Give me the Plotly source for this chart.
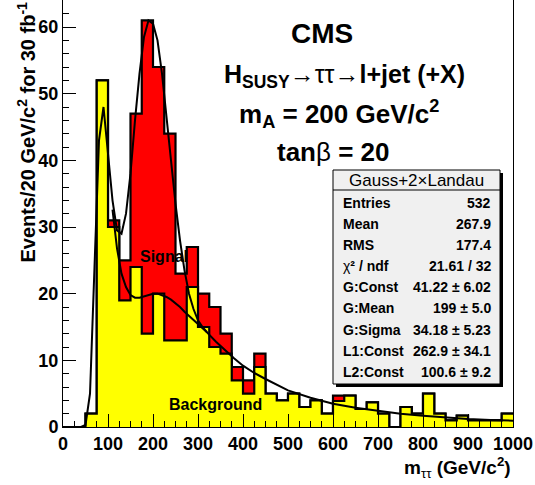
import plotly.graph_objects as go

# histogram bins (25 GeV wide)
bin_edges = list(range(0, 1001, 25))
sig_plus_bkg = [0, 0, 2, 52, 31, 25, 47, 61, 54, 44,
                23, 27, 20, 18, 14, 9, 7, 11, 5, 4,
                5, 3, 4, 2, 4.7, 4.7, 2.7, 3.7, 2, 0,
                3, 2, 5, 2, 1, 1.7, 1, 1, 1, 2]
background = [0, 0, 2, 52, 30, 19, 24, 14, 20, 13,
              13, 21, 15, 12, 11, 7, 5, 9, 5, 4,
              5, 3, 4, 2, 3.9, 4.7, 2.7, 3.7, 2, 0,
              3, 2, 5, 2, 1, 1.7, 1, 1, 1, 2]

# fit curve (Gauss + 2 x Landau)
fit_x = [0, 40, 50, 60, 70, 80, 90, 100, 110, 120, 130, 140, 150, 160, 170, 180, 190,
         200, 210, 220, 230, 240, 250, 260, 270, 280, 290, 300, 310, 320, 340, 360,
         380, 400, 425, 450, 475, 500, 550, 600, 650, 700, 750, 800, 850, 900, 950, 1000]
fit_y = [0, 0, 0.3, 5, 24, 43, 48, 41, 34, 29.5, 29, 32, 38, 46, 53, 58.5, 61,
         60.5, 58, 53, 47, 40, 33.5, 28, 23.5, 20, 17.7, 16, 15, 14.2, 12.8, 11.5,
         10.3, 9.2, 8.1, 7.2, 6.3, 5.5, 4.4, 3.5, 2.9, 2.4, 2.0, 1.7, 1.4, 1.2, 1.05, 0.95]

# background part of the fit (2 x Landau)
bkg_x = [110, 120, 130, 140, 150, 160, 170, 180, 190, 200, 210, 220, 230, 240,
         250, 260, 270, 280, 290, 300, 310, 320]
bkg_y = [32.6, 26.8, 23, 21, 19.8, 19.4, 19.4, 19.6, 19.8, 20, 20, 19.8, 19.5, 19.1,
         18.6, 18, 17.3, 16.7, 16, 15.4, 14.8, 14.2]

stat_names = ["Entries", "Mean", "RMS", "χ² / ndf", "G:Const", "G:Mean",
              "G:Sigma", "L1:Const", "L2:Const"]
stat_values = ["532", "267.9", "177.4", "21.61 / 32", "41.22 ± 6.02", "199 ± 5.0",
               "34.18 ± 5.23", "262.9 ± 34.1", "100.6 ± 9.2"]

FONT = "Liberation Sans, Arial, sans-serif"
THIN = '<span style="font-weight:normal">%s</span>'


def steps(vals):
    return bin_edges, vals + [vals[-1]]


fig = go.Figure()
sx, sy = steps(sig_plus_bkg)
fig.add_trace(go.Scatter(x=sx, y=sy, mode="lines", line_shape="hv", fill="tozeroy",
                         fillcolor="#ff0000", line=dict(color="black", width=2.2)))
bx, by = steps(background)
fig.add_trace(go.Scatter(x=bx, y=by, mode="lines", line_shape="hv", fill="tozeroy",
                         fillcolor="#ffff00", line=dict(color="black", width=2.2)))
fig.add_trace(go.Scatter(x=bkg_x, y=bkg_y, mode="lines", line=dict(color="black", width=2)))
fig.add_trace(go.Scatter(x=fit_x, y=fit_y, mode="lines", line=dict(color="black", width=2)))

W, H = 535, 485
L, R, T, B = 63, 22, 0, 58
pw, ph = W - L - R, H - T - B


def px(X):
    return (X - L) / pw


def py(Y):
    return (H - B - Y) / ph


fig.update_layout(
    width=W, height=H, showlegend=False,
    margin=dict(l=L, r=R, t=T, b=B),
    paper_bgcolor="white", plot_bgcolor="white",
    font=dict(family=FONT, color="black", size=18, weight="bold"),
    xaxis=dict(range=[0, 1000], tickvals=list(range(0, 1001, 100)), ticks="inside",
               ticklen=13, tickwidth=1, tickcolor="black", showgrid=False, zeroline=False,
               showline=True, linecolor="black", linewidth=1, mirror=True,
               minor=dict(dtick=25, ticks="inside", ticklen=6, tickcolor="black"),
               tickfont=dict(size=18, family=FONT, weight="bold")),
    yaxis=dict(range=[0, 64.05], tickvals=list(range(0, 61, 10)), ticks="inside",
               ticklen=13, tickwidth=1, tickcolor="black", showgrid=False, zeroline=False,
               showline=True, linecolor="black", linewidth=1, mirror=True,
               minor=dict(dtick=2, ticks="inside", ticklen=6, tickcolor="black"),
               tickfont=dict(size=18, family=FONT, weight="bold")),
)


def label(text, X, Y, size, xa="center", ya="middle", **kw):
    return dict(text=text, x=px(X), y=py(Y), xref="paper", yref="paper",
                xanchor=xa, yanchor=ya, showarrow=False, font=dict(size=size), **kw)


ann = []
# axis titles
ann.append(label("m<sub>" + THIN % "ττ" + "</sub> (GeV/c<sup>2</sup>)", 513, 468, 19, xa="right"))
ann.append(label("Events/20 GeV/c<sup>2</sup> for 30 fb<sup>-1</sup>", 26, 265, 20,
                 ya="bottom", textangle=-90))
# plot texts
ann.append(label("CMS", 322, 34, 28))
ann.append(label("H<sub>SUSY</sub>" + THIN % "→ττ→" + "l+jet (+X)", 344, 76, 25))
ann.append(label("m<sub>A</sub> = 200 GeV/c<sup>2</sup>", 339, 114, 26))
ann.append(label("tan" + THIN % "β" + " = 20", 333, 152, 26))
ann.append(label("Signal", 164, 256, 16))
ann.append(label("Background", 215, 404, 16))

# stats box
bx0, bx1, by0, by1 = 333, 500, 170, 384
shapes = [
    dict(type="rect", xref="paper", yref="paper", x0=px(bx0 + 3), x1=px(bx1 + 3),
         y0=py(by1 + 3), y1=py(by0 + 3), fillcolor="black", line=dict(width=0)),
    dict(type="rect", xref="paper", yref="paper", x0=px(bx0), x1=px(bx1),
         y0=py(by1), y1=py(by0), fillcolor="#f0f0f0", line=dict(color="black", width=1)),
    dict(type="line", xref="paper", yref="paper", x0=px(bx0), x1=px(bx1),
         y0=py(190), y1=py(190), line=dict(color="black", width=1)),
]
ann.append(label(THIN % "Gauss+2×Landau", (bx0 + bx1) / 2, 180, 17))
row_y = [203, 224, 245, 266, 287, 308, 330, 351, 372]
for name, val, yy in zip(stat_names, stat_values, row_y):
    if name.startswith("χ"):
        name = THIN % "χ" + name[1:]
    ann.append(label(name, 341, yy, 14, xa="left"))
    ann.append(label(val, 493, yy, 14, xa="right"))

fig.update_layout(annotations=ann, shapes=shapes)
fig.write_html("out.html", config={"displayModeBar": False},
               post_script="document.body.style.margin='0';")
